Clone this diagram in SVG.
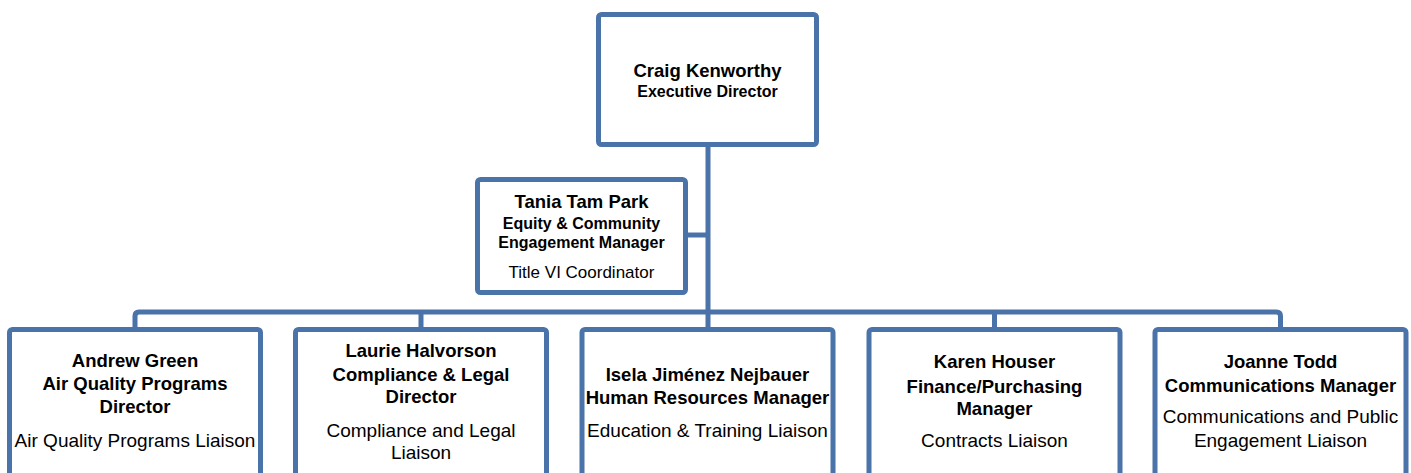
<svg xmlns="http://www.w3.org/2000/svg" width="1411" height="473" viewBox="0 0 1411 473">
<style>
.box{fill:#ffffff;stroke:#4A73A9;stroke-width:5}
.ln{fill:none;stroke:#4A73A9;stroke-width:5}
text{font-family:"Liberation Sans",Arial,sans-serif;fill:#000;text-anchor:middle}
.b{font-weight:bold;font-size:18.5px}
.bs{font-weight:bold;font-size:16px}
.r{font-size:19px}
.rs{font-size:17px}
</style>
<rect width="1411" height="473" fill="#ffffff"/>
<g id="connectors">
<path class="ln" d="M708,147 V329"/>
<path class="ln" d="M688,235 H708"/>
<path class="ln" d="M135,329 V316 Q135,312 139,312 H1276.5 Q1280.5,312 1280.5,316 V329"/>
<path class="ln" d="M421,312 V329"/>
<path class="ln" d="M994.5,312 V329"/>
</g>
<g id="craig">
<rect class="box" x="598.5" y="14.5" width="218" height="130" rx="3"/>
<text class="b" x="707.5" y="77">Craig Kenworthy</text>
<text class="bs" x="707.5" y="97">Executive Director</text>
</g>
<g id="tania">
<rect class="box" x="477.5" y="179.5" width="208" height="113" rx="3"/>
<text class="b" x="581.5" y="208">Tania Tam Park</text>
<text class="bs" x="581.5" y="229">Equity &amp; Community</text>
<text class="bs" x="581.5" y="248">Engagement Manager</text>
<text class="rs" x="581.5" y="278">Title VI Coordinator</text>
</g>
<g id="andrew">
<rect class="box" x="9.5" y="329.5" width="251" height="160" rx="3"/>
<text class="b" x="135" y="367">Andrew Green</text>
<text class="b" x="135" y="390">Air Quality Programs</text>
<text class="b" x="135" y="413">Director</text>
<text class="r" x="135" y="447">Air Quality Programs Liaison</text>
</g>
<g id="laurie">
<rect class="box" x="295.5" y="329.5" width="251" height="160" rx="3"/>
<text class="b" x="421" y="357">Laurie Halvorson</text>
<text class="b" x="421" y="381">Compliance &amp; Legal</text>
<text class="b" x="421" y="403">Director</text>
<text class="r" x="421" y="437">Compliance and Legal</text>
<text class="r" x="421" y="459">Liaison</text>
</g>
<g id="isela">
<rect class="box" x="582" y="329.5" width="251" height="160" rx="3"/>
<text class="b" x="707.5" y="381">Isela Jiménez Nejbauer</text>
<text class="b" x="707.5" y="404">Human Resources Manager</text>
<text class="r" x="707.5" y="437">Education &amp; Training Liaison</text>
</g>
<g id="karen">
<rect class="box" x="869" y="329.5" width="251" height="160" rx="3"/>
<text class="b" x="994.5" y="368">Karen Houser</text>
<text class="b" x="994.5" y="393">Finance/Purchasing</text>
<text class="b" x="994.5" y="415">Manager</text>
<text class="r" x="994.5" y="447">Contracts Liaison</text>
</g>
<g id="joanne">
<rect class="box" x="1155" y="329.5" width="251" height="160" rx="3"/>
<text class="b" x="1280.5" y="368">Joanne Todd</text>
<text class="b" x="1280.5" y="392">Communications Manager</text>
<text class="r" x="1280.5" y="423">Communications and Public</text>
<text class="r" x="1280.5" y="447">Engagement Liaison</text>
</g>
</svg>
